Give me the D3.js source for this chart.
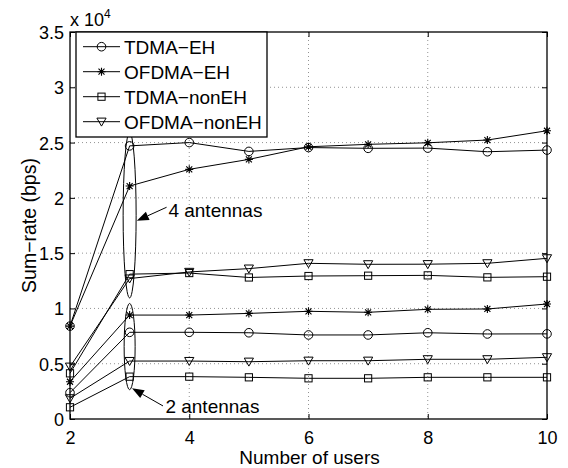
<!DOCTYPE html>
<html>
<head>
<meta charset="utf-8">
<script src="https://cdn.jsdelivr.net/npm/d3@7/dist/d3.min.js"></script>
<style>
  body { margin: 0; background: #fff; }
  svg { display: block; }
  text { font-family: "Liberation Sans", Arial, Helvetica, sans-serif; fill: #000; }
</style>
</head>
<body>
<svg id="chart" width="568" height="468"></svg>
<script>
// Number of users on the x axis
const users = [2, 3, 4, 5, 6, 7, 8, 9, 10];

// Sum-rate (bps), 4 antennas
const tdmaEH4     = [8400, 24700, 25000, 24200, 24550, 24480, 24500, 24170, 24320];
const ofdmaEH4    = [8400, 21070, 22580, 23480, 24620, 24840, 24980, 25230, 26070];
const tdmaNonEH4  = [4130, 13100, 13200, 12800, 12930, 12960, 12990, 12810, 12870];
const ofdmaNonEH4 = [4730, 12700, 13300, 13600, 14080, 13990, 14000, 14080, 14530];

// Sum-rate (bps), 2 antennas
const tdmaEH2     = [2380, 7840, 7840, 7800, 7600, 7600, 7800, 7690, 7700];
const ofdmaEH2    = [3370, 9400, 9400, 9550, 9740, 9650, 9920, 9950, 10400];
const tdmaNonEH2  = [1060, 3830, 3830, 3770, 3680, 3680, 3770, 3770, 3770];
const ofdmaNonEH2 = [1870, 5240, 5240, 5180, 5270, 5270, 5400, 5400, 5580];

const legendLabels = ["TDMA\u2212EH", "OFDMA\u2212EH", "TDMA\u2212nonEH", "OFDMA\u2212nonEH"];
const markerTypes  = ["circle", "star", "square", "triangle"];

const xTicks = [2, 4, 6, 8, 10];
const yTicks = [0, 5000, 10000, 15000, 20000, 25000, 30000, 35000];

const series = [
  { values: tdmaEH4,     marker: "circle" },
  { values: ofdmaEH4,    marker: "star" },
  { values: tdmaNonEH4,  marker: "square" },
  { values: ofdmaNonEH4, marker: "triangle" },
  { values: tdmaEH2,     marker: "circle" },
  { values: ofdmaEH2,    marker: "star" },
  { values: tdmaNonEH2,  marker: "square" },
  { values: ofdmaNonEH2, marker: "triangle" }
];

const svg = d3.select("#chart");
const L = 70, R = 547, T = 32, B = 419;
const x = d3.scaleLinear().domain([2, 10]).range([L, R]);
const y = d3.scaleLinear().domain([0, 35000]).range([B, T]);

// grid
const grid = svg.append("g");
grid.selectAll(".gx").data(xTicks.slice(1, -1)).enter().append("line")
  .attr("x1", d => x(d)).attr("x2", d => x(d)).attr("y1", T).attr("y2", B)
  .attr("stroke", "#777").attr("stroke-width", 0.8).attr("stroke-dasharray", "1,3");
grid.selectAll(".gy").data(yTicks.slice(1, -1)).enter().append("line")
  .attr("y1", d => y(d)).attr("y2", d => y(d)).attr("x1", L).attr("x2", R)
  .attr("stroke", "#777").attr("stroke-width", 0.8).attr("stroke-dasharray", "1,3");

// axes (ticks inward, box around the plot)
const tickLen = 5;
const fmtY = d => d3.format("~g")(d / 10000);
const axB = svg.append("g").attr("transform", `translate(0,${B})`)
  .call(d3.axisBottom(x).tickValues(xTicks).tickSizeInner(-tickLen).tickSizeOuter(0).tickPadding(12));
const axL = svg.append("g").attr("transform", `translate(${L},0)`)
  .call(d3.axisLeft(y).tickValues(yTicks).tickFormat(fmtY).tickSizeInner(-tickLen).tickSizeOuter(0).tickPadding(6));
const axT = svg.append("g").attr("transform", `translate(0,${T})`)
  .call(d3.axisTop(x).tickValues(xTicks).tickSizeInner(-tickLen).tickSizeOuter(0).tickFormat(""));
const axR = svg.append("g").attr("transform", `translate(${R},0)`)
  .call(d3.axisRight(y).tickValues(yTicks).tickSizeInner(-tickLen).tickSizeOuter(0).tickFormat(""));
[axB, axL, axT, axR].forEach(a => {
  a.select(".domain").remove();
  a.selectAll("line").attr("stroke", "#000").attr("stroke-width", 1);
  a.selectAll("text").style("font-family", '"Liberation Sans", Arial, sans-serif')
    .style("font-size", "18px").attr("fill", "#000");
});
axL.selectAll("text").attr("dy", "0.36em");
svg.append("rect").attr("x", L).attr("y", T).attr("width", R - L).attr("height", B - T)
  .attr("fill", "none").attr("stroke", "#000").attr("stroke-width", 1.3);

// exponent label
const ex = svg.append("text").attr("x", 70).attr("y", 26).style("font-size", "18px");
ex.append("tspan").text("x 10");
ex.append("tspan").attr("dy", -8).style("font-size", "12px").text("4");

// axis titles
svg.append("text").attr("x", (L + R) / 2 + 1).attr("y", 464).attr("text-anchor", "middle")
  .style("font-size", "19px").text("Number of users");
svg.append("text").attr("transform", `translate(36,${(T + B) / 2}) rotate(-90)`)
  .attr("text-anchor", "middle").style("font-size", "19.5px").text("Sum\u2212rate (bps)");

// marker drawing
function drawMarker(g, type) {
  const s = g.append("g");
  if (type === "circle") {
    s.append("circle").attr("r", 4.3).attr("fill", "none").attr("stroke", "#000").attr("stroke-width", 1);
  } else if (type === "square") {
    s.append("rect").attr("x", -3.6).attr("y", -3.6).attr("width", 7.2).attr("height", 7.2)
      .attr("fill", "none").attr("stroke", "#000").attr("stroke-width", 1);
  } else if (type === "triangle") {
    s.append("path").attr("d", "M-4.6,-3.6L4.6,-3.6L0,4.4Z")
      .attr("fill", "none").attr("stroke", "#000").attr("stroke-width", 1);
  } else if (type === "star") {
    s.append("path").attr("d", "M-4,0L4,0M0,-4L0,4M-3,-3L3,3M-3,3L3,-3")
      .attr("fill", "none").attr("stroke", "#000").attr("stroke-width", 1.1);
  }
  return s;
}

// lines and markers
const line = d3.line().x((d, i) => x(users[i])).y(d => y(d));
const plot = svg.append("g");
series.forEach(s => {
  plot.append("path").attr("d", line(s.values)).attr("fill", "none")
    .attr("stroke", "#000").attr("stroke-width", 1);
  s.values.forEach((v, i) => {
    drawMarker(plot, s.marker).attr("transform", `translate(${x(users[i])},${y(v)})`);
  });
});

// annotations: ellipses grouping the antenna configurations
function ellipse(xv, yTop, yBot, rx) {
  svg.append("ellipse").attr("cx", x(xv)).attr("cy", (y(yTop) + y(yBot)) / 2)
    .attr("rx", rx).attr("ry", (y(yBot) - y(yTop)) / 2)
    .attr("fill", "none").attr("stroke", "#000").attr("stroke-width", 1);
}
ellipse(3, 25900, 10950, 6.5);
ellipse(3, 10450, 2650, 5.5);

function arrow(x0, y0, x1, y1) {
  const px0 = x(x0), py0 = y(y0), px1 = x(x1), py1 = y(y1);
  const ang = Math.atan2(py1 - py0, px1 - px0);
  const len = 12, half = 4.5;
  const bx = px1 - len * Math.cos(ang), by = py1 - len * Math.sin(ang);
  svg.append("line").attr("x1", px0).attr("y1", py0).attr("x2", bx).attr("y2", by)
    .attr("stroke", "#000").attr("stroke-width", 1);
  const nx = -Math.sin(ang), ny = Math.cos(ang);
  svg.append("path")
    .attr("d", `M${px1},${py1}L${bx + nx * half},${by + ny * half}L${bx - nx * half},${by - ny * half}Z`)
    .attr("fill", "#000");
}
arrow(3.62, 19150, 3.12, 17930);
arrow(3.56, 1180, 3.04, 2780);

svg.append("text").attr("x", x(3.65)).attr("y", 216.5).style("font-size", "19px").text("4 antennas");
svg.append("text").attr("x", x(3.6)).attr("y", 413).style("font-size", "19px").text("2 antennas");

// legend
const lg = svg.append("g");
lg.append("rect").attr("x", 76).attr("y", 32).attr("width", 191).attr("height", 105)
  .attr("fill", "#fff").attr("stroke", "#000").attr("stroke-width", 1.3);
legendLabels.forEach((lab, i) => {
  const cy = 46.7 + i * 25;
  lg.append("line").attr("x1", 83).attr("x2", 120).attr("y1", cy).attr("y2", cy)
    .attr("stroke", "#000").attr("stroke-width", 1);
  drawMarker(lg, markerTypes[i]).attr("transform", `translate(101.5,${cy})`);
  lg.append("text").attr("x", 124).attr("y", cy).attr("dy", "0.36em")
    .style("font-size", "19px").text(lab);
});
</script>
</body>
</html>
